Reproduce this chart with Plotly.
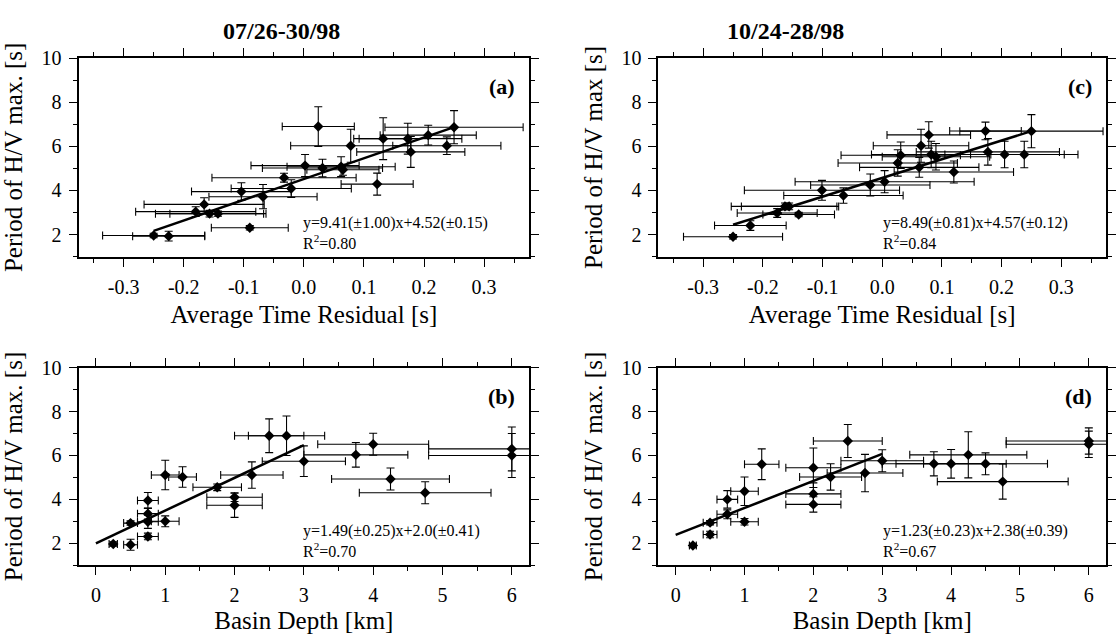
import plotly.graph_objects as go

# ---------------- data ----------------
# Panel (a): 07/26-30/98, Average time residual vs period
a_x = [-0.25, -0.225, -0.09, -0.18, -0.166, -0.157, -0.143, -0.104, -0.068, -0.033, -0.021, 0.002,
       0.024, 0.031, 0.062, 0.065, 0.078, 0.122, 0.132, 0.173, 0.178, 0.207, 0.238, 0.25]
a_xerr = [0.085, 0.06, 0.064, 0.10, 0.10, 0.09, 0.08, 0.083, 0.09, 0.12, 0.10, 0.09,
          0.06, 0.10, 0.09, 0.06, 0.10, 0.06, 0.04, 0.09, 0.09, 0.08, 0.09, 0.115]
a_y = [1.96, 1.93, 2.31, 3.04, 3.37, 2.95, 2.95, 3.95, 3.72, 4.58, 4.09, 5.13,
       6.90, 5.02, 5.08, 4.94, 6.03, 4.29, 6.35, 6.35, 5.75, 6.51, 6.03, 6.87]
a_yerr = [0.10, 0.22, 0.10, 0.22, 0.30, 0.15, 0.12, 0.40, 0.55, 0.20, 0.40, 0.50,
          0.90, 0.40, 0.45, 0.25, 0.75, 0.50, 0.95, 0.70, 0.70, 0.45, 0.40, 0.75]

# Panel (b): 07/26-30/98, basin depth vs period
b_x = [0.25, 0.5, 0.5, 0.75, 0.75, 0.75, 0.75, 1.0, 1.0, 1.25, 1.75, 2.0, 2.0, 2.25,
       2.5, 2.75, 3.0, 3.75, 4.0, 4.25, 4.75, 6.0, 6.0]
b_xerr = [0.06, 0.1, 0.1, 0.15, 0.15, 0.15, 0.15, 0.2, 0.2, 0.2, 0.35, 0.4, 0.4, 0.45,
          0.5, 0.55, 0.6, 0.75, 0.8, 0.85, 0.95, 1.2, 1.2]
b_y = [1.97, 1.93, 2.92, 3.95, 3.35, 2.98, 2.31, 3.0, 5.11, 5.02, 4.55, 4.1, 3.73, 5.11,
       6.9, 6.9, 5.74, 6.03, 6.51, 4.93, 4.3, 6.3, 6.0]
b_yerr = [0.1, 0.25, 0.1, 0.36, 0.25, 0.3, 0.15, 0.25, 0.67, 0.47, 0.15, 0.2, 0.55, 0.6,
          0.77, 0.9, 0.7, 0.56, 0.5, 0.5, 0.5, 1.0, 1.0]

# Panel (c): 10/24-28/98, Average time residual vs period
c_x = [-0.25, -0.221, -0.176, -0.163, -0.156, -0.14, -0.101, -0.065, -0.02, 0.004, 0.026, 0.031,
       0.062, 0.065, 0.078, 0.082, 0.09, 0.12, 0.173, 0.177, 0.205, 0.238, 0.25]
c_xerr = [0.083, 0.06, 0.067, 0.09, 0.08, 0.06, 0.13, 0.1, 0.1, 0.15, 0.1, 0.1,
          0.1, 0.08, 0.07, 0.1, 0.09, 0.1, 0.06, 0.12, 0.1, 0.09, 0.12]
c_y = [1.9, 2.41, 2.98, 3.28, 3.28, 2.91, 4.01, 3.77, 4.25, 4.40, 5.25, 5.60,
       5.05, 6.03, 6.52, 5.63, 5.53, 4.84, 6.70, 5.75, 5.63, 5.63, 6.69]
c_yerr = [0.1, 0.22, 0.2, 0.15, 0.15, 0.1, 0.45, 0.35, 0.5, 0.5, 0.6, 0.6,
          0.45, 0.75, 0.6, 0.6, 0.6, 0.5, 0.4, 0.6, 0.6, 0.6, 0.75]

# Panel (d): 10/24-28/98, basin depth vs period
d_x = [0.25, 0.5, 0.5, 0.75, 0.75, 1.0, 1.0, 1.25, 2.0, 2.0, 2.0, 2.25, 2.5, 2.75,
       3.0, 3.75, 4.0, 4.25, 4.5, 4.75, 6.0, 6.0]
d_xerr = [0.05, 0.1, 0.1, 0.15, 0.15, 0.2, 0.2, 0.25, 0.4, 0.4, 0.4, 0.45, 0.5, 0.55,
          0.6, 0.75, 0.8, 0.85, 0.9, 0.95, 1.2, 1.2]
d_y = [1.9, 2.4, 2.94, 3.32, 4.0, 4.37, 2.98, 5.6, 5.44, 4.25, 3.77, 5.02, 6.66, 5.2,
       5.76, 5.62, 5.62, 6.03, 5.62, 4.81, 6.66, 6.51]
d_yerr = [0.1, 0.15, 0.1, 0.2, 0.4, 0.65, 0.15, 0.7, 0.9, 0.5, 0.35, 0.6, 0.75, 0.85,
          0.5, 0.55, 0.65, 1.05, 0.5, 0.8, 0.6, 0.6]

# regression fits: slope, intercept, fit x-range, label
fits = {
    "a": (9.41, 4.52, [-0.25, 0.25], "y=9.41(±1.00)x+4.52(±0.15)", "R<sup>2</sup>=0.80"),
    "b": (1.49, 2.00, [0.0, 3.0], "y=1.49(±0.25)x+2.0(±0.41)", "R<sup>2</sup>=0.70"),
    "c": (8.49, 4.57, [-0.25, 0.25], "y=8.49(±0.81)x+4.57(±0.12)", "R<sup>2</sup>=0.84"),
    "d": (1.23, 2.38, [0.0, 3.0], "y=1.23(±0.23)x+2.38(±0.39)", "R<sup>2</sup>=0.67"),
}

col_titles = ["07/26-30/98", "10/24-28/98"]
xlabel_res = "Average Time Residual [s]"
xlabel_depth = "Basin Depth [km]"
ylabels = {"a": "Period of H/V max. [s]", "b": "Period of H/V max. [s]",
           "c": "Period of H/V max [s]", "d": "Period of H/V max. [s]"}
res_ticks = [-0.3, -0.2, -0.1, 0.0, 0.1, 0.2, 0.3]
res_ticktext = ["-0.3", "-0.2", "-0.1", "0.0", "0.1", "0.2", "0.3"]
depth_ticks = [0, 1, 2, 3, 4, 5, 6]
depth_ticktext = ["0", "1", "2", "3", "4", "5", "6"]
y_ticks = [2, 4, 6, 8, 10]
y_ticktext = ["2", "4", "6", "8", "10"]

# ---------------- layout geometry ----------------
W, H = 1116, 634
FONT = "Liberation Serif"
panels = {
    # key: (x0px, x1px, top px, bottom px, xrange, ticks, ticktext, minor step, data)
    "a": (79, 532, 48, 250, [-0.375, 0.375], res_ticks, res_ticktext, 0.05, (a_x, a_xerr, a_y, a_yerr)),
    "b": (79, 532, 363, 564, [-0.25, 6.25], depth_ticks, depth_ticktext, 0.5, (b_x, b_xerr, b_y, b_yerr)),
    "c": (662, 1112, 48, 250, [-0.375, 0.375], res_ticks, res_ticktext, 0.05, (c_x, c_xerr, c_y, c_yerr)),
    "d": (662, 1112, 363, 564, [-0.25, 6.25], depth_ticks, depth_ticktext, 0.5, (d_x, d_xerr, d_y, d_yerr)),
}

fig = go.Figure()
annotations = []
for i, (key, (x0, x1, top, bot, xr, tv, tt, mdt, data)) in enumerate(panels.items()):
    n = "" if i == 0 else str(i + 1)
    xa, ya = "x" + n, "y" + n
    px, pxe, py, pye = data
    fig.add_trace(go.Scatter(
        x=px, y=py, mode="markers", xaxis=xa, yaxis=ya,
        marker=dict(symbol="diamond", size=8, color="black"),
        error_x=dict(type="data", array=pxe, color="black", thickness=1.1, width=4),
        error_y=dict(type="data", array=pye, color="black", thickness=1.1, width=4),
        showlegend=False))
    slope, icpt, frng, eq, r2 = fits[key]
    fig.add_trace(go.Scatter(
        x=frng, y=[slope * v + icpt for v in frng], mode="lines", xaxis=xa, yaxis=ya,
        line=dict(color="black", width=2.5), showlegend=False))
    axis_common = dict(showline=True, linecolor="black", linewidth=2, mirror="ticks",
                       ticks="outside", ticklen=8, tickwidth=1, tickcolor="black",
                       showgrid=False, zeroline=False, ticklabelstandoff=3,
                       tickfont=dict(family=FONT, size=20, color="black"))
    fig.layout["xaxis" + n] = dict(
        axis_common, domain=[x0 / W, x1 / W], range=xr, anchor=ya,
        tickmode="array", tickvals=tv, ticktext=tt,
        minor=dict(ticks="outside", ticklen=4, dtick=mdt, tick0=0, tickcolor="black"),
        title=dict(text=xlabel_res if key in "ac" else xlabel_depth, standoff=9,
                   font=dict(family=FONT, size=25, color="black")))
    fig.layout["yaxis" + n] = dict(
        axis_common, domain=[1 - bot / H, 1 - top / H], range=[1, 10], anchor=xa,
        tickmode="array", tickvals=y_ticks, ticktext=y_ticktext,
        minor=dict(ticks="outside", ticklen=4, dtick=1, tick0=0, tickcolor="black"),
        title=dict(text=ylabels[key], standoff=12,
                   font=dict(family=FONT, size=25, color="black")))
    # panel letter
    annotations.append(dict(text="<b>(%s)</b>" % key, x=(x1 - 12) / W, y=1 - (top + 29) / H,
                            xref="paper", yref="paper", showarrow=False,
                            xanchor="right", yanchor="middle",
                            font=dict(family=FONT, size=22, color="black")))
    # equation and R^2 (one two-line text)
    annotations.append(dict(text=eq + "<br>" + r2, x=(x0 + 224) / W, y=1 - (bot - 3) / H,
                            xref="paper", yref="paper", showarrow=False, align="left",
                            xanchor="left", yanchor="bottom",
                            font=dict(family=FONT, size=16, color="black")))

annotations.append(dict(text="<b>%s</b>" % col_titles[0], x=283 / W, y=1 - 20 / H, xref="paper",
                        yref="paper", showarrow=False, xanchor="center", yanchor="middle",
                        font=dict(family=FONT, size=24, color="black")))
annotations.append(dict(text="<b>%s</b>" % col_titles[1], x=790 / W, y=1 - 20 / H, xref="paper",
                        yref="paper", showarrow=False, xanchor="center", yanchor="middle",
                        font=dict(family=FONT, size=24, color="black")))

fig.update_layout(width=W, height=H, margin=dict(l=0, r=0, t=0, b=0),
                  plot_bgcolor="white", paper_bgcolor="white",
                  annotations=annotations, showlegend=False)
fig.write_html("out.html")
